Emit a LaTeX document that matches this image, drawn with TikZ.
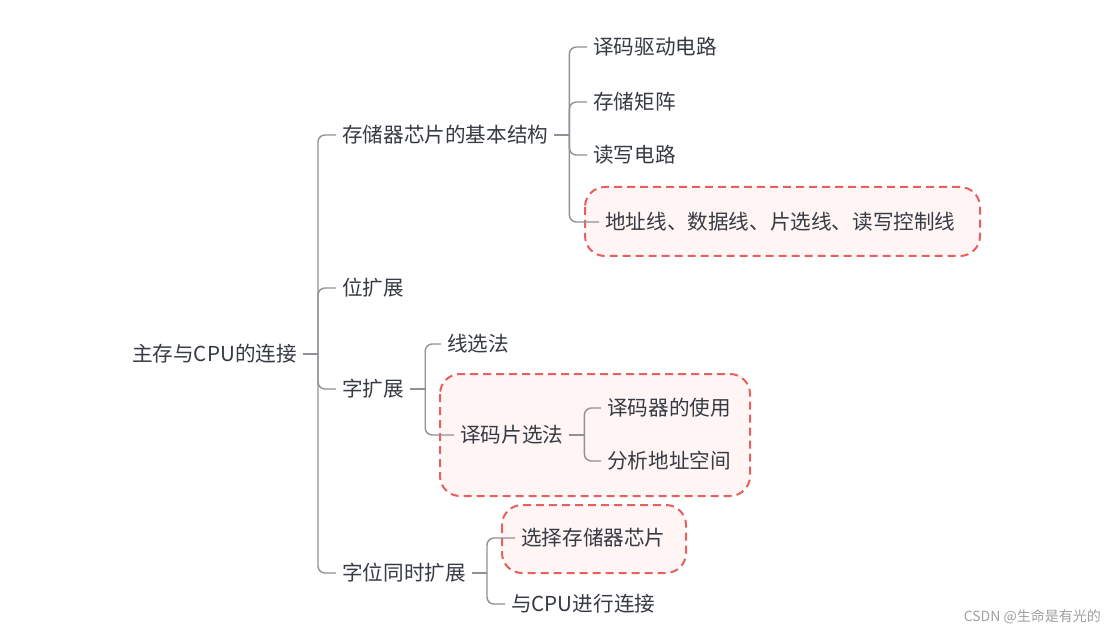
\documentclass[tikz,border=0pt]{standalone}
\usepackage{fontspec}
\setmainfont{Noto Sans CJK SC}
\usetikzlibrary{calc}
\definecolor{txt}{HTML}{363A42}
\definecolor{ln}{HTML}{8E9196}
\definecolor{rd}{HTML}{E8605E}
\definecolor{rf}{HTML}{FFF5F5}
\definecolor{wmc}{HTML}{A0A0A0}
\begin{document}
\begin{tikzpicture}[x=1pt,y=-1pt,
  t/.style={inner xsep=6pt, inner ysep=2pt, text=txt, font=\fontsize{20.6}{24}\selectfont, anchor=west},
  br/.style={draw=ln, line width=1.4pt, rounded corners=7pt},
  hl/.style={draw=rd, fill=rf, line width=2pt, dash pattern=on 8pt off 5pt, rounded corners=20pt}]
\useasboundingbox[fill=white] (0,0) rectangle (1117,639);
% highlight boxes
\draw[hl] (585,187) rectangle (980,256);
\draw[hl] (440,374) rectangle (750,496);
\draw[hl] (502,505) rectangle (686,573);
% nodes
\node[t,anchor=east] (root) at (303,354) {主存与CPU的连接};
\node[t] (a) at (336,135) {存储器芯片的基本结构};
\node[t] (a1) at (587,47) {译码驱动电路};
\node[t] (a2) at (587,102) {存储矩阵};
\node[t] (a3) at (587,155) {读写电路};
\node[t] (a4) at (599,222) {地址线、数据线、片选线、读写控制线};
\node[t] (b) at (336,288) {位扩展};
\node[t] (c) at (336,389) {字扩展};
\node[t] (c1) at (441,344) {线选法};
\node[t] (c2) at (454,435) {译码片选法};
\node[t] (c21) at (601,408) {译码器的使用};
\node[t] (c22) at (601,461) {分析地址空间};
\node[t] (d) at (336,573) {字位同时扩展};
\node[t] (d1) at (515,538) {选择存储器芯片};
\node[t] (d2) at (505,604) {与CPU进行连接};
\node[anchor=east, inner sep=0pt, text=wmc, font=\fontsize{14}{17}\selectfont] (wm) at (1101,617) {CSDN @生命是有光的};
% connectors
\draw[br] (root.east) -- ++(15,0) coordinate (j0);
\foreach \n in {a,b,c,d} \draw[br] (j0) |- (\n.west);
\draw[br] (a.east) -- ++(15,0) coordinate (ja);
\foreach \n in {a1,a2,a3,a4} \draw[br] (ja) |- (\n.west);
\draw[br] (c.east) -- ++(15,0) coordinate (jc);
\foreach \n in {c1,c2} \draw[br] (jc) |- (\n.west);
\draw[br] (c2.east) -- ++(15,0) coordinate (jc2);
\foreach \n in {c21,c22} \draw[br] (jc2) |- (\n.west);
\draw[br] (d.east) -- ++(15,0) coordinate (jd);
\foreach \n in {d1,d2} \draw[br] (jd) |- (\n.west);
\end{tikzpicture}
\end{document}
